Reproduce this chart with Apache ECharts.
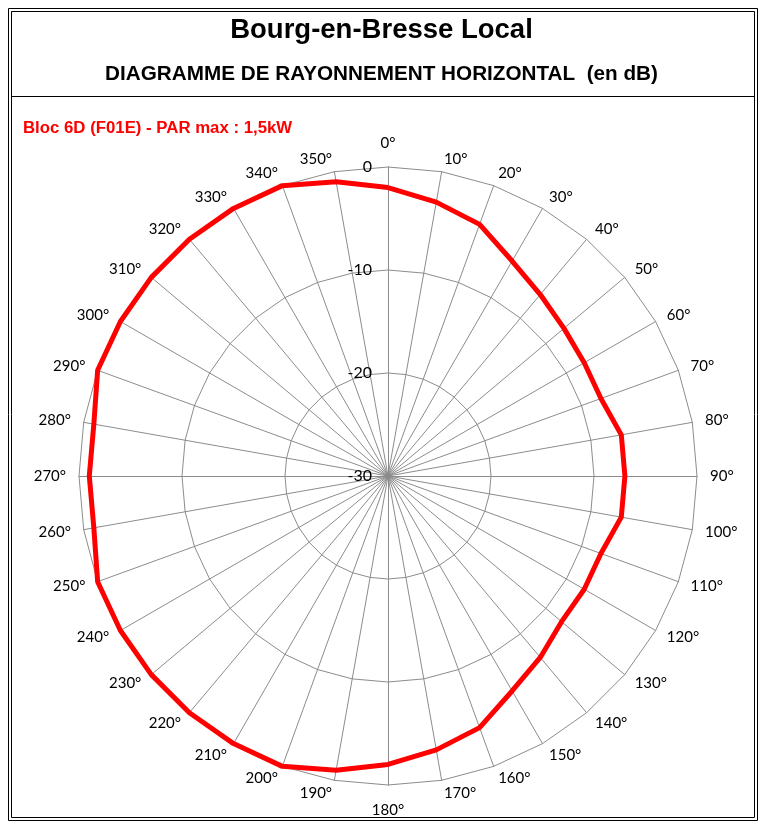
<!DOCTYPE html>
<html>
<head>
<meta charset="utf-8">
<script src="https://cdn.jsdelivr.net/npm/echarts@6/dist/echarts.min.js"></script>
<style>
html,body{margin:0;padding:0;background:#fff;}
#chart{width:763px;height:828px;}
</style>
</head>
<body>
<div id="chart"></div>
<script>
// Directions (degrees, clockwise from north)
const angles = [0,10,20,30,40,50,60,70,80,90,100,110,120,130,140,150,160,170,
                180,190,200,210,220,230,240,250,260,270,280,290,300,310,320,330,340,350];
// Attenuation (dB) for each direction
const attenuation = [-2,-3,-4,-5.9,-7,-7.7,-8,-8,-7,-7,-7,-8,-8,-8,-7,-5.9,-4,-3,
                     -2,-1,0,0,0,0,0,0,-1,-1,-1,0,0,0,0,0,0,-1];
const radialMin = -30;
const radialMax = 0;
const radialSteps = 3;

const titleText = 'Bourg-en-Bresse Local';
const subtitleText = 'DIAGRAMME DE RAYONNEMENT HORIZONTAL  (en dB)';
const seriesName = 'Bloc 6D (F01E) - PAR max : 1,5kW';

// ECharts radar places indicators counter-clockwise; reverse to get clockwise order
const order = angles.map((a, i) => (angles.length - i) % angles.length);
const indicators = order.map((idx, k) => {
  const ind = { name: angles[idx] + '°', min: radialMin, max: radialMax };
  if (k === 0) {
    ind.axisLabel = {
      show: true, color: '#000', fontSize: 16, fontFamily: 'Lato',
      margin: 16
    };
  }
  return ind;
});
const values = order.map(idx => attenuation[idx]);

const nameFont = { color: '#000', fontSize: 15, fontFamily: 'Lato' };

const chart = echarts.init(document.getElementById('chart'));
chart.setOption({
  animation: false,
  backgroundColor: '#fff',
  title: [
    { text: titleText, left: 'center', top: 11,
      textStyle: { fontFamily: 'Liberation Sans', fontWeight: 'bold', fontSize: 27.5, color: '#000' } },
    { text: subtitleText, left: 'center', top: 59,
      textStyle: { fontFamily: 'Liberation Sans', fontWeight: 'bold', fontSize: 20.7, color: '#000' } },
    { text: seriesName, left: 18, top: 115,
      textStyle: { fontFamily: 'Liberation Sans', fontWeight: 'bold', fontSize: 16.8, color: '#ff0000' } }
  ],
  graphic: [
    { type: 'rect', shape: { x: 8.5, y: 8.5, width: 749, height: 812 }, style: { fill: null, stroke: '#000', lineWidth: 1 }, silent: true },
    { type: 'rect', shape: { x: 11.5, y: 11.5, width: 743, height: 806 }, style: { fill: null, stroke: '#000', lineWidth: 1 }, silent: true },
    { type: 'line', shape: { x1: 11.5, y1: 96.5, x2: 754.5, y2: 96.5 }, style: { stroke: '#000', lineWidth: 1 }, silent: true }
  ],
  radar: {
    center: [388, 476],
    radius: 309,
    startAngle: 90,
    shape: 'polygon',
    splitNumber: radialSteps,
    indicator: indicators,
    nameGap: 13,
    axisName: Object.assign({}, nameFont, {
      formatter: function (name) {
        if (name === angles[0] + '°') return '{up|' + name + '}';
        if (name === angles[angles.length / 2] + '°') return '{down|' + name + '}';
        return name;
      },
      rich: {
        up: Object.assign({ padding: [0, 0, 3, 0] }, nameFont),
        down: Object.assign({ padding: [5, 0, 0, 0] }, nameFont)
      }
    }),
    axisLine: { show: true, lineStyle: { color: '#8c8c8c', width: 1 } },
    splitLine: { show: true, lineStyle: { color: '#8c8c8c', width: 1 } },
    splitArea: { show: false },
    axisTick: { show: false },
    axisLabel: { show: false }
  },
  series: [{
    type: 'radar',
    name: seriesName,
    symbol: 'none',
    lineStyle: { color: '#ff0000', width: 5 },
    data: [{ value: values, name: seriesName }]
  }]
});
</script>
</body>
</html>
